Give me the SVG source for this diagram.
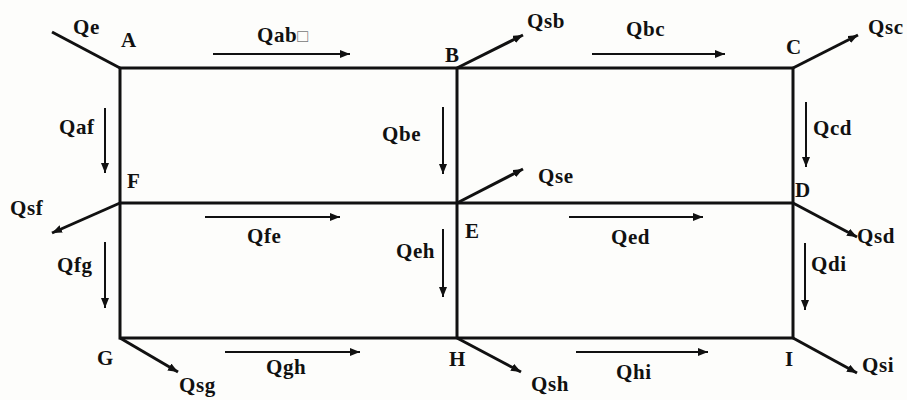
<svg xmlns="http://www.w3.org/2000/svg" width="907" height="400" viewBox="0 0 907 400">
<style>
.t{font-family:"Liberation Serif","Times New Roman",serif;font-weight:bold;font-size:21px;letter-spacing:0.6px;fill:#111}
.frame{stroke:#111;stroke-width:3;fill:none;stroke-linecap:square}
.br{stroke:#111;stroke-width:3;fill:none}
.fl{stroke:#111;stroke-width:2;fill:none}
</style>
<defs>
<marker id="ah" markerUnits="userSpaceOnUse" markerWidth="12" markerHeight="10" refX="10" refY="4" orient="auto">
<path d="M0,0 L10,4 L0,8 Z" fill="#111"/>
</marker>
</defs>
<rect width="907" height="400" fill="#fdfdfb"/>
<g id="connectors">
<path class="frame" d="M120,68 H793 M120,203 H793 M120,338 H793 M120,68 V338 M457,68 V338 M793,68 V338"/>
<line class="br" x1="52" y1="32" x2="120" y2="68"/>
<line class="br" x1="457" y1="68" x2="523" y2="35" marker-end="url(#ah)"/>
<line class="br" x1="793" y1="68" x2="858" y2="35" marker-end="url(#ah)"/>
<line class="br" x1="457" y1="203" x2="523" y2="169" marker-end="url(#ah)"/>
<line class="br" x1="120" y1="203" x2="52" y2="233" marker-end="url(#ah)"/>
<line class="br" x1="793" y1="203" x2="857" y2="237" marker-end="url(#ah)"/>
<line class="br" x1="120" y1="338" x2="178" y2="372" marker-end="url(#ah)"/>
<line class="br" x1="457" y1="338" x2="521" y2="372" marker-end="url(#ah)"/>
<line class="br" x1="793" y1="338" x2="857" y2="373" marker-end="url(#ah)"/>
<line class="fl" x1="213" y1="54" x2="350" y2="54" marker-end="url(#ah)"/>
<line class="fl" x1="592" y1="54" x2="725" y2="54" marker-end="url(#ah)"/>
<line class="fl" x1="105" y1="108" x2="105" y2="173" marker-end="url(#ah)"/>
<line class="fl" x1="443" y1="107" x2="443" y2="174" marker-end="url(#ah)"/>
<line class="fl" x1="806" y1="102" x2="806" y2="167" marker-end="url(#ah)"/>
<line class="fl" x1="205" y1="217" x2="340" y2="217" marker-end="url(#ah)"/>
<line class="fl" x1="569" y1="217" x2="703" y2="217" marker-end="url(#ah)"/>
<line class="fl" x1="105" y1="242" x2="105" y2="308" marker-end="url(#ah)"/>
<line class="fl" x1="443" y1="229" x2="443" y2="297" marker-end="url(#ah)"/>
<line class="fl" x1="805" y1="243" x2="805" y2="310" marker-end="url(#ah)"/>
<line class="fl" x1="225" y1="352" x2="360" y2="352" marker-end="url(#ah)"/>
<line class="fl" x1="576" y1="352" x2="708" y2="352" marker-end="url(#ah)"/>
</g>
<g id="node-A"><text class="t" x="121" y="47">A</text></g>
<g id="node-B"><text class="t" x="445" y="62">B</text></g>
<g id="node-C"><text class="t" x="786" y="54">C</text></g>
<g id="node-D"><text class="t" x="795" y="197">D</text></g>
<g id="node-E"><text class="t" x="465" y="238">E</text></g>
<g id="node-F"><text class="t" x="127" y="188">F</text></g>
<g id="node-G"><text class="t" x="97" y="365">G</text></g>
<g id="node-H"><text class="t" x="449" y="366">H</text></g>
<g id="node-I"><text class="t" x="785" y="366">I</text></g>
<g id="labels">
<text class="t" x="73" y="34">Qe</text>
<text class="t" x="257" y="42">Qab<tspan font-weight="normal" fill="#777" font-size="18">□</tspan></text>
<text class="t" x="527" y="28">Qsb</text>
<text class="t" x="626" y="36">Qbc</text>
<text class="t" x="868" y="34">Qsc</text>
<text class="t" x="59" y="134">Qaf</text>
<text class="t" x="382" y="141">Qbe</text>
<text class="t" x="813" y="135">Qcd</text>
<text class="t" x="538" y="183">Qse</text>
<text class="t" x="10" y="215">Qsf</text>
<text class="t" x="247" y="243">Qfe</text>
<text class="t" x="396" y="258">Qeh</text>
<text class="t" x="611" y="244">Qed</text>
<text class="t" x="857" y="243">Qsd</text>
<text class="t" x="57" y="272">Qfg</text>
<text class="t" x="811" y="271">Qdi</text>
<text class="t" x="179" y="392">Qsg</text>
<text class="t" x="266" y="374">Qgh</text>
<text class="t" x="531" y="391">Qsh</text>
<text class="t" x="616" y="379">Qhi</text>
<text class="t" x="862" y="372">Qsi</text>
</g>
</svg>
